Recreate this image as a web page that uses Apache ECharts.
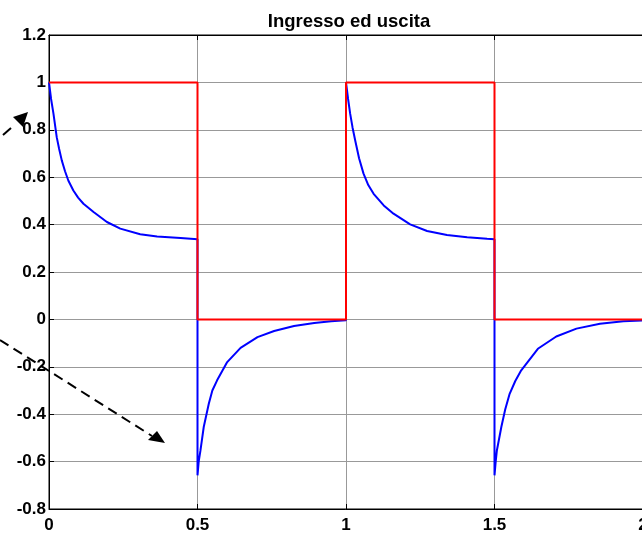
<!DOCTYPE html>
<html>
<head>
<meta charset="utf-8">
<title>Ingresso ed uscita</title>
<script src="https://cdn.jsdelivr.net/npm/echarts@6/dist/echarts.min.js"></script>
<style>
html,body{margin:0;padding:0;background:#fff;}
#main{width:642px;height:533px;}
</style>
</head>
<body>
<div id="main"></div>
<script>
// ingresso: onda quadra
var tIn = [0, 0.5, 0.5, 1, 1, 1.5, 1.5, 2];
var yIn = [1, 1, 0, 0, 1, 1, 0, 0];

// uscita
var tOut = [0, 0.007, 0.015, 0.026, 0.034, 0.043, 0.054, 0.065, 0.082, 0.098, 0.116, 0.15, 0.195, 0.24, 0.307, 0.364, 0.443, 0.5,
            0.5, 0.504, 0.51, 0.521, 0.538, 0.55, 0.566, 0.6, 0.645, 0.702, 0.758, 0.825, 0.893, 0.95, 1,
            1, 1.007, 1.014, 1.022, 1.031, 1.044, 1.059, 1.075, 1.093, 1.127, 1.16, 1.216, 1.273, 1.34, 1.408, 1.475, 1.5,
            1.5, 1.504, 1.508, 1.523, 1.536, 1.551, 1.57, 1.59, 1.646, 1.708, 1.776, 1.855, 1.934, 2];
var yOut = [1, 0.93, 0.868, 0.769, 0.72, 0.671, 0.625, 0.586, 0.544, 0.514, 0.488, 0.453, 0.411, 0.383, 0.359, 0.35, 0.343, 0.338,
            -0.658, -0.6, -0.553, -0.454, -0.356, -0.3, -0.257, -0.18, -0.12, -0.075, -0.049, -0.028, -0.015, -0.008, -0.004,
            1, 0.93, 0.868, 0.81, 0.755, 0.68, 0.615, 0.567, 0.53, 0.481, 0.446, 0.401, 0.373, 0.356, 0.347, 0.34, 0.338,
            -0.658, -0.6, -0.553, -0.454, -0.38, -0.314, -0.26, -0.215, -0.124, -0.072, -0.039, -0.018, -0.008, -0.004];

// assi
var xRange = [0, 2], xStep = 0.5;
var yRange = [-0.8, 1.2], yStep = 0.2;

function pairs(xs, ys) {
	var out = [];
	for (var i = 0; i < xs.length; i++) out.push([xs[i], ys[i]]);
	return out;
}

var labelStyle = {color: '#000', fontFamily: 'Liberation Sans, Arial, sans-serif', fontWeight: 'bold', fontSize: 17};

var myChart = echarts.init(document.getElementById('main'));
var option = {
	animation: false,
	backgroundColor: '#fff',
	title: {
		text: 'Ingresso ed uscita',
		left: 344,
		textAlign: 'center',
		top: 7,
		textStyle: {color: '#000', fontFamily: 'Liberation Sans, Arial, sans-serif', fontWeight: 'bold', fontSize: 18.5}
	},
	grid: {left: 49, top: 35, right: -1, bottom: 24, show: true, borderColor: '#000', borderWidth: 1,
		containLabel: false, outerBoundsMode: 'none'},
	xAxis: [{
		type: 'value', min: xRange[0], max: xRange[1], interval: xStep,
		axisLine: {onZero: false, lineStyle: {color: '#000'}},
		axisTick: {inside: true, length: 5, lineStyle: {color: '#000'}},
		axisLabel: Object.assign({margin: 8, formatter: function (v) { return String(+v.toFixed(2)); }}, labelStyle),
		splitLine: {show: true, lineStyle: {color: '#999', width: 1}}
	}, {
		type: 'value', position: 'top', min: xRange[0], max: xRange[1], interval: xStep,
		axisLine: {onZero: false, lineStyle: {color: '#000'}},
		axisTick: {inside: true, length: 5, lineStyle: {color: '#000'}},
		axisLabel: {show: false},
		splitLine: {show: false}
	}],
	yAxis: {
		type: 'value', min: yRange[0], max: yRange[1], interval: yStep,
		axisLine: {show: true, onZero: false, lineStyle: {color: '#000'}},
		axisTick: {show: true, inside: true, length: 5, lineStyle: {color: '#000'}},
		axisLabel: Object.assign({margin: 3, formatter: function (v) { return String(+v.toFixed(1)); }}, labelStyle),
		splitLine: {show: true, lineStyle: {color: '#999', width: 1}}
	},
	series: [{
		name: 'uscita', type: 'line', showSymbol: false,
		lineStyle: {color: '#0000ff', width: 2}, itemStyle: {color: '#0000ff'},
		data: pairs(tOut, yOut)
	}, {
		name: 'ingresso', type: 'line', showSymbol: false,
		lineStyle: {color: '#ff0000', width: 2}, itemStyle: {color: '#ff0000'},
		data: pairs(tIn, yIn)
	}],
	// frecce tratteggiate (annotazioni fuori dal grafico)
	graphic: [
		{type: 'line', z: 100, shape: {x1: 3, y1: 135, x2: 11, y2: 128}, style: {stroke: '#000', lineWidth: 2}},
		{type: 'polygon', z: 100, shape: {points: [[13, 117], [28, 112], [23, 127]]}, style: {fill: '#000'}},
		{type: 'line', z: 100, shape: {x1: 0, y1: 340, x2: 152, y2: 436}, style: {stroke: '#000', lineWidth: 2, lineDash: [10, 6]}},
		{type: 'polygon', z: 100, shape: {points: [[148, 440], [157, 431], [165, 443]]}, style: {fill: '#000'}}
	]
};
myChart.setOption(option);
</script>
</body>
</html>
